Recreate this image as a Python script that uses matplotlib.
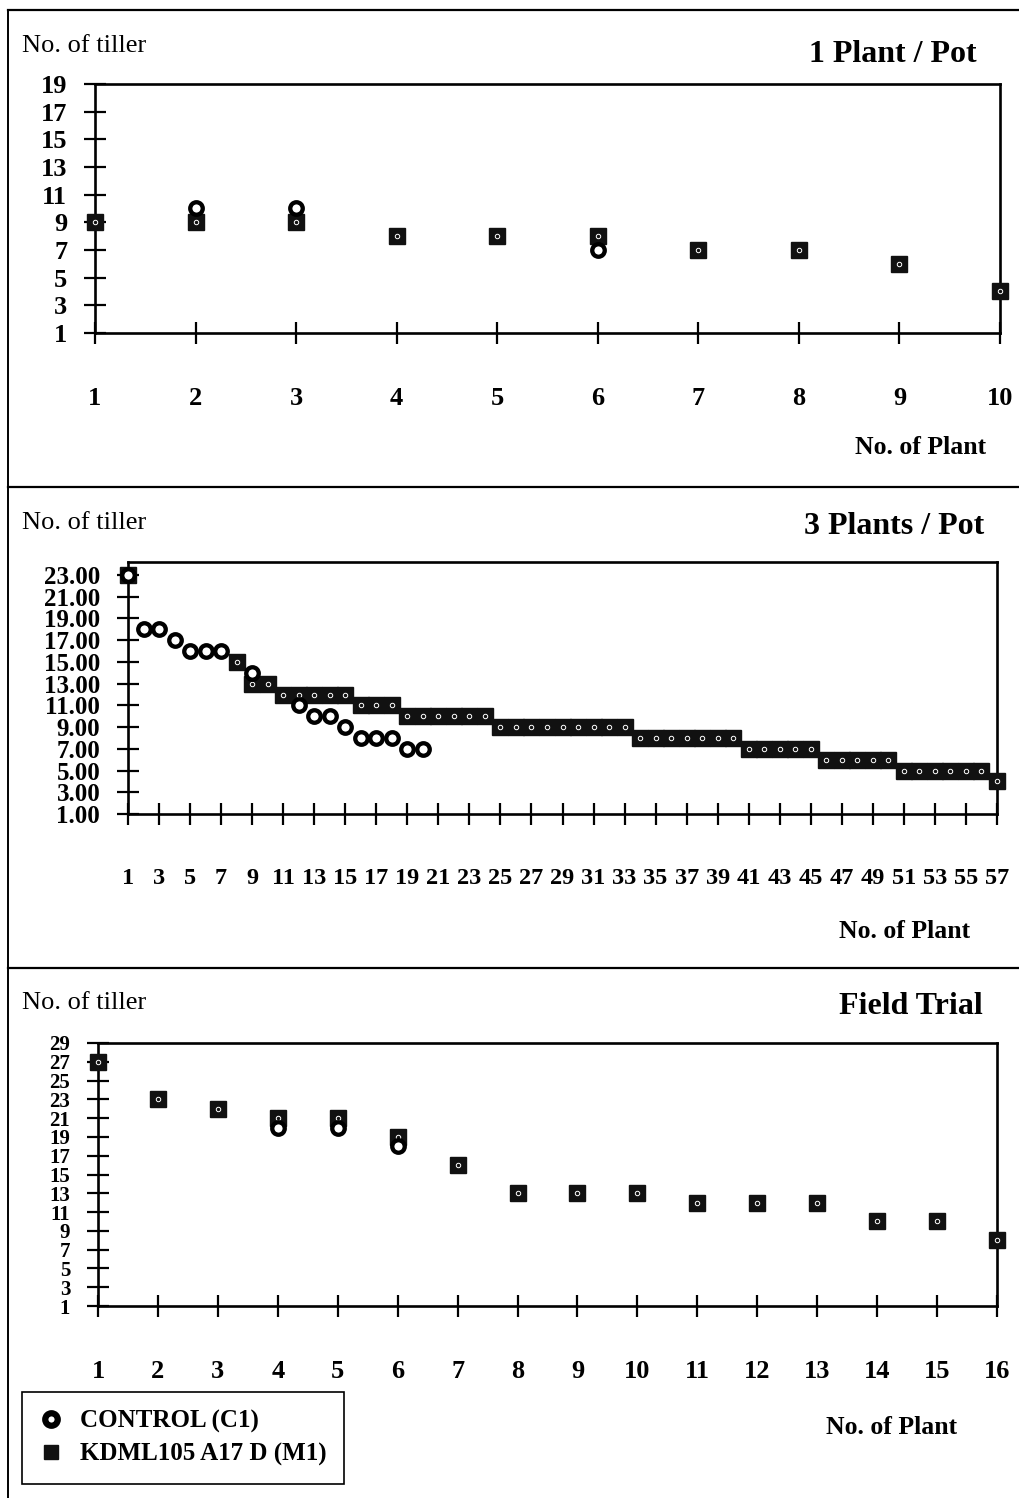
import matplotlib
matplotlib.use("Agg")
import matplotlib.pyplot as plt
from matplotlib.lines import Line2D

plt.rcParams['font.family'] = ['Liberation Serif', 'DejaVu Serif']

# ---- data ----
# 1 Plant / Pot
pot1_m1_plants = [1, 2, 3, 4, 5, 6, 7, 8, 9, 10]
pot1_m1 = [9, 9, 9, 8, 8, 8, 7, 7, 6, 4]
pot1_c1_plants = [2, 3, 6]
pot1_c1 = [10, 10, 7]

# 3 Plants / Pot
pot3_m1_plants = [1] + list(range(8, 58))
pot3_m1 = [23,
           15, 13, 13, 12, 12, 12, 12, 12, 11, 11, 11,
           10, 10, 10, 10, 10, 10,
           9, 9, 9, 9, 9, 9, 9, 9, 9,
           8, 8, 8, 8, 8, 8, 8,
           7, 7, 7, 7, 7,
           6, 6, 6, 6, 6,
           5, 5, 5, 5, 5, 5,
           4]
pot3_c1_plants = [1, 2, 3, 4, 5, 6, 7, 9, 12, 13, 14, 15, 16, 17, 18, 19, 20]
pot3_c1 = [23, 18, 18, 17, 16, 16, 16, 14, 11, 10, 10, 9, 8, 8, 8, 7, 7]

# Field Trial
field_m1_plants = list(range(1, 17))
field_m1 = [27, 23, 22, 21, 21, 19, 16, 13, 13, 13, 12, 12, 12, 10, 10, 8]
field_c1_plants = [4, 5, 6]
field_c1 = [20, 20, 18]

W, H = 1019, 1498
fig = plt.figure(figsize=(W / 100, H / 100), dpi=100)


def box(l, t, r, b):
    return [l / W, 1 - b / H, (r - l) / W, (b - t) / H]


def draw_points(ax, mx, my, cx, cy):
    ax.plot(mx, my, ls='none', marker='s', ms=11, mfc='#111111', mec='#111111',
            clip_on=False, zorder=3)
    ax.plot(mx, my, ls='none', marker='o', ms=3.2, mfc='none', mec='white',
            mew=0.7, clip_on=False, zorder=4)
    ax.plot(cx, cy, ls='none', marker='o', ms=9, mfc='white', mec='black',
            mew=3.1, clip_on=False, zorder=5)


def style(ax, xlim, ylim, xticks, yticks, ylabels, xsize, ysize):
    ax.set_xlim(*xlim)
    ax.set_ylim(*ylim)
    ax.set_xticks(xticks)
    ax.set_yticks(yticks)
    ax.set_yticklabels(ylabels)
    for s in ax.spines.values():
        s.set_linewidth(1.9)
    ax.tick_params(axis='x', direction='inout', length=16, width=1.6, pad=31,
                   labelsize=xsize)
    ax.tick_params(axis='y', direction='inout', length=16, width=1.6, pad=12,
                   labelsize=ysize)
    for lab in ax.get_xticklabels() + ax.get_yticklabels():
        lab.set_fontweight('bold')


def panel_text(ytl, title, xt, yt, xp, yp):
    fig.text(22 / W, 1 - ytl / H, "No. of tiller", fontsize=19, va='center')
    fig.text(xt / W, 1 - yt / H, title, fontsize=23, fontweight='bold',
             ha='right', va='center')
    fig.text(xp / W, 1 - yp / H, "No. of Plant", fontsize=18.5, fontweight='bold',
             ha='right', va='center')


# top panel
ax1 = fig.add_axes(box(95, 84, 1000, 333))
draw_points(ax1, pot1_m1_plants, pot1_m1, pot1_c1_plants, pot1_c1)
yt1 = list(range(1, 20, 2))
style(ax1, (1, 10), (1, 19), range(1, 11), yt1, [str(v) for v in yt1], 19, 19)
panel_text(46, "1 Plant / Pot", 977, 55, 986, 447)

# middle panel
ax2 = fig.add_axes(box(128, 562, 997, 814))
draw_points(ax2, pot3_m1_plants, pot3_m1, pot3_c1_plants, pot3_c1)
yt2 = list(range(1, 24, 2))
style(ax2, (1, 57), (1, 24.2), range(1, 58, 2), yt2,
      ["%.2f" % v for v in yt2], 17.5, 18)
panel_text(523, "3 Plants / Pot", 984, 526, 970, 931)

# bottom panel
ax3 = fig.add_axes(box(98, 1043, 997, 1306))
draw_points(ax3, field_m1_plants, field_m1, field_c1_plants, field_c1)
yt3 = list(range(1, 30, 2))
style(ax3, (1, 16), (1, 29), range(1, 17), yt3, [str(v) for v in yt3], 19, 15)
panel_text(1003, "Field Trial", 983, 1006, 957, 1427)

# page frame and separators
for y in (10, 487, 968):
    fig.add_artist(Line2D([8 / W, 1], [1 - y / H, 1 - y / H], color='black',
                          lw=1.6, transform=fig.transFigure))
fig.add_artist(Line2D([8 / W, 8 / W], [0, 1 - 10 / H], color='black', lw=1.4,
                      transform=fig.transFigure))

# legend
handles = [
    Line2D([], [], ls='none', marker='o', ms=9, mfc='white', mec='black', mew=4.5),
    Line2D([], [], ls='none', marker='s', ms=10, mfc='#111111', mec='#111111'),
]
leg = fig.legend(handles, ["CONTROL (C1)", "KDML105 A17 D (M1)"],
                 loc='upper left', bbox_to_anchor=(22 / W, 1 - 1392 / H),
                 borderaxespad=0, fancybox=False, framealpha=1,
                 edgecolor='black', prop={'size': 18, 'weight': 'bold'},
                 handlelength=0.9, handletextpad=0.7, labelspacing=0.4,
                 borderpad=0.7)
leg.get_frame().set_linewidth(1.2)

fig.savefig("out.png", dpi=100)
